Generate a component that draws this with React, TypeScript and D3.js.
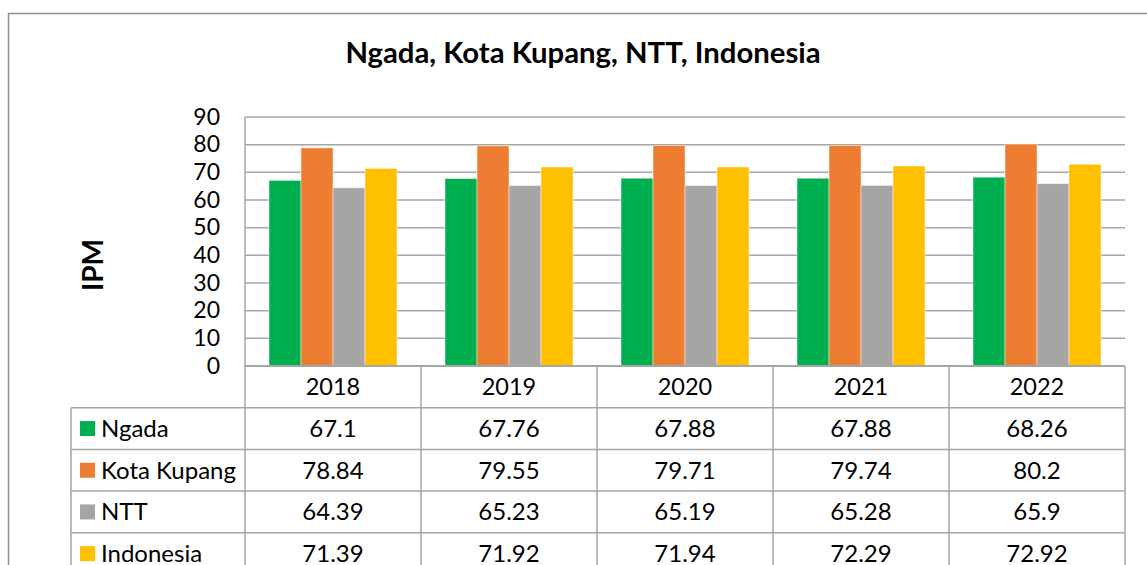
import React from "react";
import * as d3 from "d3";

const years = ["2018", "2019", "2020", "2021", "2022"];
const seriesNames = ["Ngada", "Kota Kupang", "NTT", "Indonesia"];
const ngada = [67.1, 67.76, 67.88, 67.88, 68.26];
const kotaKupang = [78.84, 79.55, 79.71, 79.74, 80.2];
const ntt = [64.39, 65.23, 65.19, 65.28, 65.9];
const indonesia = [71.39, 71.92, 71.94, 72.29, 72.92];
const yTicks = [0, 10, 20, 30, 40, 50, 60, 70, 80, 90];
const colors = ["#00B050", "#ED7D31", "#A5A5A5", "#FFC000"];

const seriesValues = [ngada, kotaKupang, ntt, indonesia];

const W = 1147;
const H = 565;
const plotLeft = 245;
const plotRight = 1125;
const plotTop = 117;
const plotBottom = 366;
const tableLeft = 71;
const rowH = 41.7;
const FONT = "Lato, 'Open Sans', sans-serif";
const GRID = "#a6a6a6";

export default function App() {
  const x = d3.scaleBand<string>().domain(years).range([plotLeft, plotRight]);
  const y = d3.scaleLinear().domain([0, 90]).range([plotBottom, plotTop]);
  const cw = x.bandwidth();
  const barW = cw / (seriesNames.length + 1.5);
  const inner = d3
    .scaleBand<number>()
    .domain(d3.range(seriesNames.length))
    .range([barW * 0.75, barW * 0.75 + barW * seriesNames.length]);

  const headerTop = plotBottom;
  const rowsTop = headerTop + rowH;
  const rowTops = seriesNames.map((_, i) => rowsTop + i * rowH);
  const tableBottom = rowsTop + seriesNames.length * rowH;

  return (
    <svg
      width={W}
      height={H}
      style={{ position: "absolute", left: 0, top: 0, background: "#fff" }}
      fontFamily={FONT}
    >
      <rect x={0} y={0} width={W} height={H} fill="#fff" />
      <rect x={8.5} y={13.5} width={W + 20} height={H + 20} fill="none" stroke="#8f8f8f" strokeWidth={1.5} />
      <text x={583} y={63} textAnchor="middle" fontSize={29.3} fontWeight="bold" fill="#000">
        Ngada, Kota Kupang, NTT, Indonesia
      </text>
      <text
        transform={`translate(103,265) rotate(-90)`}
        textAnchor="middle"
        fontSize={28}
        fontWeight="bold"
        fill="#000"
      >
        IPM
      </text>
      {yTicks.map((t) => (
        <line key={t} x1={plotLeft} x2={plotRight} y1={y(t)} y2={y(t)} stroke={GRID} strokeWidth={1.5} />
      ))}
      {yTicks.map((t) => (
        <text key={"l" + t} x={220} y={y(t) + 7.5} textAnchor="end" fontSize={23} fill="#000">
          {t}
        </text>
      ))}
      {years.map((yr, ci) => (
        <g key={yr}>
          {seriesValues.map((vals, si) => (
            <rect
              key={si}
              x={(x(yr) as number) + (inner(si) as number)}
              y={y(vals[ci])}
              width={inner.bandwidth()}
              height={plotBottom - y(vals[ci])}
              fill={colors[si]}
              stroke="#ffffff"
              strokeOpacity={0.6}
              strokeWidth={0.75}
            />
          ))}
        </g>
      ))}
      <line x1={plotLeft} x2={plotLeft} y1={plotTop} y2={plotBottom} stroke={GRID} strokeWidth={1.5} />
      <line x1={plotLeft} x2={plotRight} y1={headerTop} y2={headerTop} stroke={GRID} strokeWidth={2} />
      {rowTops.map((ry, i) => (
        <line key={"h" + i} x1={tableLeft} x2={plotRight} y1={ry} y2={ry} stroke={GRID} strokeWidth={1.5} />
      ))}
      <line x1={tableLeft} x2={plotRight} y1={tableBottom} y2={tableBottom} stroke={GRID} strokeWidth={1.5} />
      <line x1={tableLeft} x2={tableLeft} y1={rowsTop} y2={tableBottom} stroke={GRID} strokeWidth={1.5} />
      {years.map((yr) => (
        <line key={"v" + yr} x1={x(yr)} x2={x(yr)} y1={headerTop} y2={tableBottom} stroke={GRID} strokeWidth={1.5} />
      ))}
      <line x1={plotRight} x2={plotRight} y1={headerTop} y2={tableBottom} stroke={GRID} strokeWidth={1.5} />
      {years.map((yr) => (
        <text key={"y" + yr} x={(x(yr) as number) + cw / 2} y={headerTop + rowH / 2 + 8.5} textAnchor="middle" fontSize={23.5} fill="#000">
          {yr}
        </text>
      ))}
      {seriesNames.map((name, si) => (
        <g key={name}>
          <rect x={80} y={rowTops[si] + rowH / 2 - 7.5} width={15} height={15} fill={colors[si]} />
          <text x={101} y={rowTops[si] + rowH / 2 + 8.5} fontSize={24} fill="#000">
            {name}
          </text>
          {years.map((yr, ci) => (
            <text
              key={yr}
              x={(x(yr) as number) + cw / 2}
              y={rowTops[si] + rowH / 2 + 8.5}
              textAnchor="middle"
              fontSize={24}
              fill="#000"
            >
              {String(seriesValues[si][ci])}
            </text>
          ))}
        </g>
      ))}
    </svg>
  );
}
